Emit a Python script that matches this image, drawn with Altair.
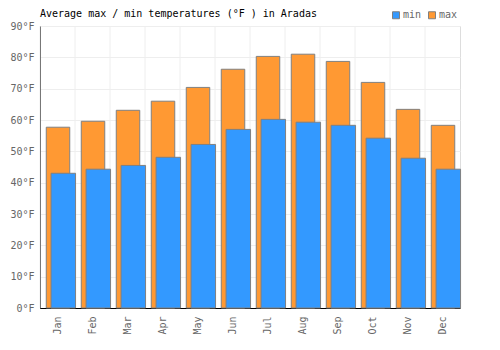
import altair as alt
import pandas as pd

months = ["Jan", "Feb", "Mar", "Apr", "May", "Jun", "Jul", "Aug", "Sep", "Oct", "Nov", "Dec"]
max_f = [57.7, 59.6, 63.1, 66.0, 70.4, 76.2, 80.3, 81.0, 78.7, 72.0, 63.4, 58.3]
min_f = [43.0, 44.3, 45.5, 48.1, 52.2, 57.0, 60.2, 59.3, 58.3, 54.2, 47.8, 44.3]
title_text = "Average max / min temperatures (°F ) in Aradas"

df = pd.DataFrame(
    [{"month": m, "type": "max", "value": v} for m, v in zip(months, max_f)]
    + [{"month": m, "type": "min", "value": v} for m, v in zip(months, min_f)]
)

FONT = "DejaVu Sans Mono"

x_scale = alt.Scale(domain=months, paddingInner=0, paddingOuter=0)
x_axis = alt.Axis(
    title=None,
    labelAngle=-90,
    labelColor="#666666",
    labelFont=FONT,
    labelFontSize=10,
    grid=False,
    ticks=False,
    domainColor="#000000",
    labelPadding=8,
)
x = alt.X("month:N", sort=months, scale=x_scale, axis=x_axis)
y = alt.Y(
    "value:Q",
    scale=alt.Scale(domain=[0, 90], nice=False),
    axis=alt.Axis(
        title=None,
        values=list(range(0, 100, 10)),
        labelExpr="datum.value + '°F'",
        labelColor="#666666",
        labelFont=FONT,
        labelFontSize=10,
        gridColor="#eeeeee",
        ticks=False,
        domainColor="#000000",
        labelPadding=6,
    ),
)
color = alt.Color(
    "type:N",
    scale=alt.Scale(domain=["min", "max"], range=["#3399ff", "#ff9933"]),
    legend=alt.Legend(
        title=None,
        orient="none",
        direction="horizontal",
        legendX=351,
        legendY=-16,
        symbolType="square",
        symbolSize=49,
        symbolStrokeColor="#808080",
        symbolStrokeWidth=1,
        labelFont=FONT,
        labelFontSize=10,
        labelColor="#666666",
        columnPadding=4,
        symbolOffset=0,
        labelOffset=2,
    ),
)

base = alt.Chart(df)

vgrid = base.transform_filter("datum.type == 'max'").mark_rule(
    color="#eeeeee", strokeWidth=1
).encode(
    x=alt.X("month:N", sort=months, scale=x_scale, bandPosition=0, axis=x_axis),
    y=alt.value(0),
    y2=alt.value(282),
)

max_bars = base.transform_filter("datum.type == 'max'").mark_bar(
    width=23.5, xOffset=0.5, stroke="#808080", strokeWidth=1
).encode(x=x, y=y, color=color)
min_bars = base.transform_filter("datum.type == 'min'").mark_bar(
    width=24.5, xOffset=5.8, stroke="#808080", strokeWidth=1
).encode(x=x, y=y, color=color)

title = alt.Chart(alt.Data(values=[{"t": title_text}])).mark_text(
    align="left", baseline="alphabetic", font=FONT, fontSize=10, color="#000000"
).encode(x=alt.value(0), y=alt.value(-9), text="t:N")

chart = (
    alt.layer(vgrid, max_bars, min_bars, title)
    .properties(
        width=420,
        height=282,
        autosize=alt.AutoSizeParams(type="none"),
        padding={"left": 40, "top": 26, "right": 40, "bottom": 42},
    )
    .configure_view(stroke="#eeeeee")
    .configure(background="white")
)

chart.save("out.html", embed_options={"renderer": "svg", "actions": False})
